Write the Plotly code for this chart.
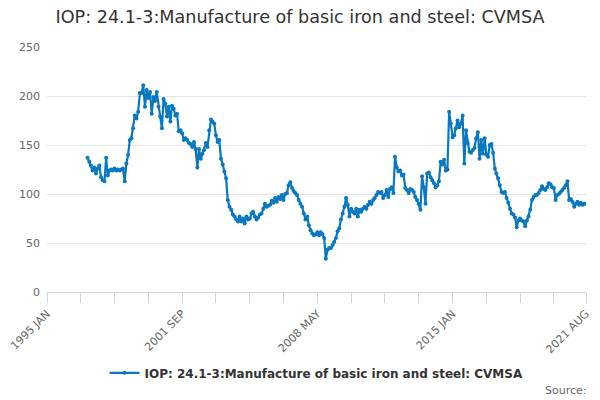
import pandas as pd
import plotly.graph_objects as go

title = "IOP: 24.1-3:Manufacture of basic iron and steel: CVMSA"
series_name = "IOP: 24.1-3:Manufacture of basic iron and steel: CVMSA"

# monthly values, 1997 JAN .. 2021 AUG
v1997 = [137, 133, 129, 124, 127, 121, 126, 129, 117, 114, 113, 137]
v1998 = [119, 124, 125, 124, 126, 124, 125, 124, 125, 126, 113, 131]
v1999 = [140, 155, 157, 167, 180, 177, 184, 203, 203, 211, 189, 206]
v2000 = [198, 204, 182, 199, 195, 204, 189, 179, 167, 197, 192, 179]
v2001 = [189, 174, 190, 187, 180, 182, 164, 165, 162, 155, 157, 155]
v2002 = [152, 151, 148, 153, 146, 127, 146, 136, 141, 145, 152, 148]
v2003 = [165, 176, 174, 172, 160, 153, 155, 136, 130, 123, 116, 94]
v2004 = [87, 84, 79, 77, 74, 72, 77, 72, 75, 70, 77, 74]
v2005 = [75, 80, 82, 77, 74, 76, 79, 80, 85, 90, 87, 88]
v2006 = [89, 93, 91, 96, 92, 97, 95, 99, 94, 100, 101, 109]
v2007 = [112, 106, 103, 101, 99, 94, 90, 87, 80, 74, 77, 68]
v2008 = [63, 60, 58, 59, 61, 58, 61, 59, 55, 34, 43, 45]
v2009 = [45, 48, 51, 55, 62, 65, 74, 80, 87, 96, 89, 77]
v2010 = [85, 82, 80, 85, 77, 84, 82, 85, 87, 85, 89, 92]
v2011 = [90, 94, 96, 99, 102, 101, 102, 96, 99, 104, 97, 105]
v2012 = [107, 101, 138, 127, 123, 124, 119, 120, 106, 104, 101, 105]
v2013 = [104, 102, 97, 94, 90, 84, 118, 107, 90, 121, 122, 117]
v2014 = [114, 111, 107, 109, 113, 133, 130, 135, 124, 125, 184, 172]
v2015 = [158, 160, 167, 175, 168, 172, 180, 131, 165, 152, 143, 142]
v2016 = [145, 147, 157, 163, 136, 155, 141, 157, 140, 138, 150, 151]
v2017 = [142, 126, 121, 116, 109, 102, 101, 102, 96, 91, 85, 80]
v2018 = [79, 76, 66, 73, 75, 73, 72, 67, 73, 77, 84, 94]
v2019 = [97, 99, 99, 101, 104, 108, 105, 104, 107, 111, 110, 107]
v2020 = [106, 94, 99, 100, 102, 104, 106, 109, 113, 94, 95, 92]
v2021 = [87, 90, 92, 89, 91, 89, 90, 90]

values = (v1997 + v1998 + v1999 + v2000 + v2001 + v2002 + v2003 + v2004 + v2005
          + v2006 + v2007 + v2008 + v2009 + v2010 + v2011 + v2012 + v2013 + v2014
          + v2015 + v2016 + v2017 + v2018 + v2019 + v2020 + v2021)
dates = pd.date_range("1997-01-01", periods=len(values), freq="MS")

tick_dates = ["1995-01-01", "2001-09-01", "2008-05-01", "2015-01-01", "2021-08-01"]
tick_text = ["1995 JAN", "2001 SEP", "2008 MAY", "2015 JAN", "2021 AUG"]
minor_ticks = pd.date_range("1995-01-01", "2021-08-01", freq="20MS")

fig = go.Figure()
fig.add_trace(go.Scatter(
    x=dates, y=values, name=series_name, mode="lines+markers",
    line=dict(color="#0a78c0", width=2.2),
    marker=dict(size=4, color="#0a78c0"),
))

fig.update_layout(
    width=600, height=400,
    font=dict(family="DejaVu Sans", color="#666666"),
    paper_bgcolor="white", plot_bgcolor="white",
    margin=dict(l=47, r=14, t=47, b=108, autoexpand=False),
    title=dict(text=title, x=0.5, xanchor="center", y=0.958, yanchor="middle",
               font=dict(size=17.6, color="#333333")),
    showlegend=True,
    legend=dict(orientation="h", x=0.5, xanchor="center", y=-0.33, yanchor="middle",
                font=dict(size=12, color="#333333", weight="bold")),
    xaxis=dict(
        type="date", range=["1995-01-01", "2021-08-01"], automargin=False,
        tickmode="array", tickvals=tick_dates, ticktext=tick_text,
        tickangle=-45, tickfont=dict(size=11, color="#666666"),
        ticks="outside", ticklen=10, tickcolor="#ccd6eb",
        showline=True, linecolor="#ccd6eb", linewidth=1,
        showgrid=False, zeroline=False,
        minor=dict(tickmode="array", tickvals=list(minor_ticks), ticks="outside",
                   ticklen=10, tickcolor="#ccd6eb", showgrid=False),
    ),
    yaxis=dict(
        range=[0, 250], dtick=50, showgrid=True, gridcolor="#e6e6e6",
        zeroline=False, showline=False, tickfont=dict(size=11, color="#666666"),
        ticks="", ticklabelstandoff=6, automargin=False,
    ),
)

fig.add_annotation(text="Source:", xref="paper", yref="paper", x=1.005, y=-0.4,
                   xanchor="right", yanchor="middle", showarrow=False,
                   font=dict(size=11, color="#666666"))

# page has a default body margin; drop it so the chart sits at the window corner
fig.write_html("out.html", config={"displayModeBar": False},
               post_script="document.body.style.margin='0px';")
